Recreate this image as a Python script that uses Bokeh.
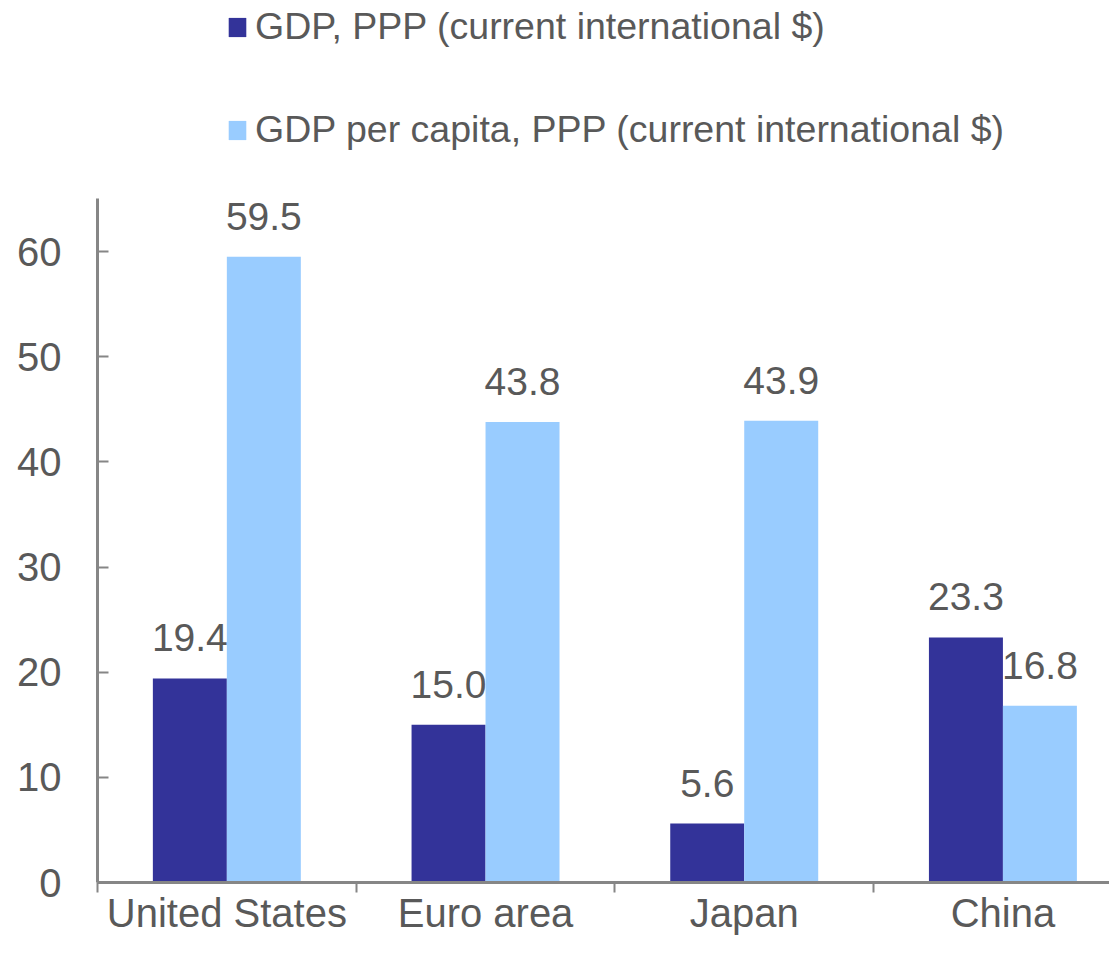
from bokeh.plotting import figure
from bokeh.models import ColumnDataSource, Range1d, FixedTicker, LabelSet, Legend, LegendItem
from bokeh.core.properties import value
from bokeh.transform import dodge
from bokeh.embed import file_html
from bokeh.resources import INLINE

categories = ["United States", "Euro area", "Japan", "China"]
gdp_ppp = [19.4, 15.0, 5.6, 23.3]
gdp_per_capita = [59.5, 43.8, 43.9, 16.8]
y_ticks = [0, 10, 20, 30, 40, 50, 60]
series_names = ["GDP, PPP (current international $)",
                "GDP per capita, PPP (current international $)"]

DARK = "#333399"
LIGHT = "#99CCFF"
TXT = "#595959"
AXC = "#868686"
FONT = "Liberation Sans"

centers = [i + 0.5 for i in range(len(categories))]
src = ColumnDataSource(dict(
    x=centers,
    a=gdp_ppp,
    b=gdp_per_capita,
    at=["%.1f" % v for v in gdp_ppp],
    bt=["%.1f" % v for v in gdp_per_capita],
))

p = figure(width=1109, height=937, output_backend="svg", toolbar_location=None,
           x_range=Range1d(0, 3.912), y_range=Range1d(0, 83.87),
           min_border_left=97, min_border_right=0, min_border_top=0)
p.background_fill_color = "white"
p.border_fill_color = "white"
p.outline_line_color = None
p.xgrid.visible = False
p.ygrid.visible = False

bw = 0.286
r1 = p.vbar(x=dodge("x", -bw / 2), top="a", width=bw, source=src,
            fill_color=DARK, line_color=None)
r2 = p.vbar(x=dodge("x", bw / 2), top="b", width=bw, source=src,
            fill_color=LIGHT, line_color=None)

for col, off in (("at", -bw / 2), ("bt", bw / 2)):
    p.add_layout(LabelSet(x=dodge("x", off), y=col[0], text=col, source=src,
                          text_align="center", text_baseline="alphabetic",
                          y_offset=27, text_font=value(FONT),
                          text_font_size=value("39px"), text_color=TXT))

# y axis
ya = p.yaxis[0]
ya.bounds = (0, 65)
ya.ticker = FixedTicker(ticks=y_ticks)
ya.major_tick_in = 11
ya.major_tick_out = 0
ya.minor_tick_line_color = None
ya.axis_line_color = AXC
ya.axis_line_width = 3
ya.major_tick_line_color = AXC
ya.major_tick_line_width = 2
ya.major_label_text_font = FONT
ya.major_label_text_font_size = "40px"
ya.major_label_text_color = TXT
ya.major_label_standoff = 36

# x axis
xa = p.xaxis[0]
xa.ticker = FixedTicker(ticks=centers, minor_ticks=[float(i) for i in range(len(categories) + 1)])
xa.major_label_overrides = {c: lab for c, lab in zip(centers, categories)}
xa.major_tick_in = 0
xa.major_tick_out = 0
xa.major_tick_line_color = None
xa.minor_tick_in = 0
xa.minor_tick_out = 10
xa.minor_tick_line_color = AXC
xa.minor_tick_line_width = 2
xa.axis_line_color = AXC
xa.axis_line_width = 3
xa.major_label_text_font = FONT
xa.major_label_text_font_size = "40px"
xa.major_label_text_color = TXT
xa.major_label_standoff = -2

legend = Legend(items=[LegendItem(label=series_names[0], renderers=[r1]),
                       LegendItem(label=series_names[1], renderers=[r2])],
                location=(129, 731), orientation="vertical",
                glyph_width=22, glyph_height=24, label_standoff=7, spacing=60,
                padding=0, margin=0, border_line_alpha=0, background_fill_alpha=0,
                label_text_font=FONT, label_text_font_size="37.5px",
                label_text_color=TXT)
p.add_layout(legend)

open("out.html", "w").write(file_html(p, INLINE))
